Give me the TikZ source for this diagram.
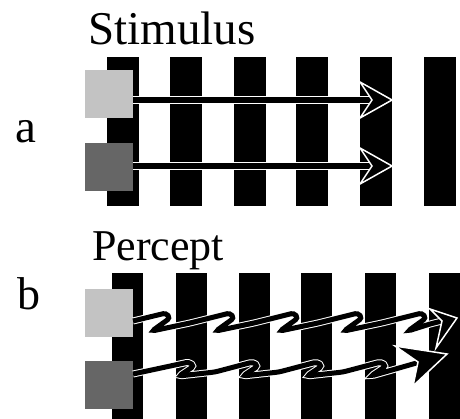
\documentclass[tikz,border=0pt]{standalone}
\usepackage{fontspec}
\setmainfont{Liberation Serif}
\begin{document}
\begin{tikzpicture}[x=1pt,y=-1pt,
  lightsq/.style={draw=none,fill={rgb,255:red,195;green,195;blue,195},minimum size=48pt,inner sep=0pt,anchor=north west},
  darksq/.style={draw=none,fill={rgb,255:red,102;green,102;blue,102},minimum size=48pt,inner sep=0pt,anchor=north west},
  shaft/.style={draw=white,double=black,double distance=5.5pt,line width=1pt},
  wig/.style={draw=white,double=black,double distance=5pt,line width=1pt,rounded corners=3pt},
  head/.style={fill=black,draw=white,line width=1.5pt,line join=miter},
  lbl/.style={inner sep=0pt,anchor=base west}]
\useasboundingbox (0,0) rectangle (460,419);
\fill[white] (0,0) rectangle (460,419);
% bars
\foreach \x in {107,170,234,296,360,424} \fill[black] (\x,57) rectangle ++(32,149);
\foreach \x in {112,176,239,301,365,429} \fill[black] (\x,273) rectangle ++(31,146);
% labels
\node[lbl,font=\fontsize{47}{50}\selectfont] (stim) at (88,45) {Stimulus};
\node[lbl,font=\fontsize{47}{50}\selectfont] (la) at (15,143) {a};
\node[lbl,font=\fontsize{44}{48}\selectfont] (perc) at (92,261) {Percept};
\node[lbl,font=\fontsize{46}{50}\selectfont] (lb) at (17,309) {b};
% squares
\node[lightsq] (sqa1) at (85,70) {};
\node[darksq] (sqa2) at (85,143) {};
\node[lightsq] (sqb1) at (85,289) {};
\node[darksq] (sqb2) at (85,361) {};
% straight arrows (stimulus)
\coordinate (ea1) at (376,100);
\coordinate (ea2) at (376,166);
\draw[shaft] (sqa1.east |- ea1) -- (ea1);
\filldraw[head] (392,100) -- (360,82) -- (372,100) -- (360,118) -- cycle;
\draw[shaft] (sqa2.east |- ea2) -- (ea2);
\filldraw[head] (392,166) -- (360,148) -- (372,166) -- (360,184) -- cycle;
% wiggly arrows (percept)
\coordinate (wb1s) at (133,321);
\coordinate (wb1e) at (446,320);
\draw[wig] (wb1s) -- (166,313) -- (170,318) -- (152,331) -- (190,323) -- (230,313) -- (234,318) -- (216,331)
  -- (254,323) -- (294,313) -- (298,318) -- (280,331) -- (318,323) -- (358,313) -- (362,318) -- (344,331)
  -- (382,323) -- (422,313) -- (426,318) -- (408,331) -- (430,324) -- (wb1e);
\filldraw[head] (457,318) -- (430,309) -- (442,321) -- (436,348) -- cycle;
\coordinate (wb2s) at (133,374);
\coordinate (wb2e) at (420,362);
\draw[wig] (wb2s) -- (189,362) -- (194,366) -- (179,376) -- (215,372) -- (253,362) -- (258,366) -- (243,376)
  -- (279,372) -- (317,362) -- (322,366) -- (307,376) -- (343,372) -- (381,362) -- (386,366) -- (371,376)
  -- (wb2e);
\filldraw[head] (447,354) -- (395,346) -- (418,362) -- (413,386) -- cycle;
\end{tikzpicture}
\end{document}
